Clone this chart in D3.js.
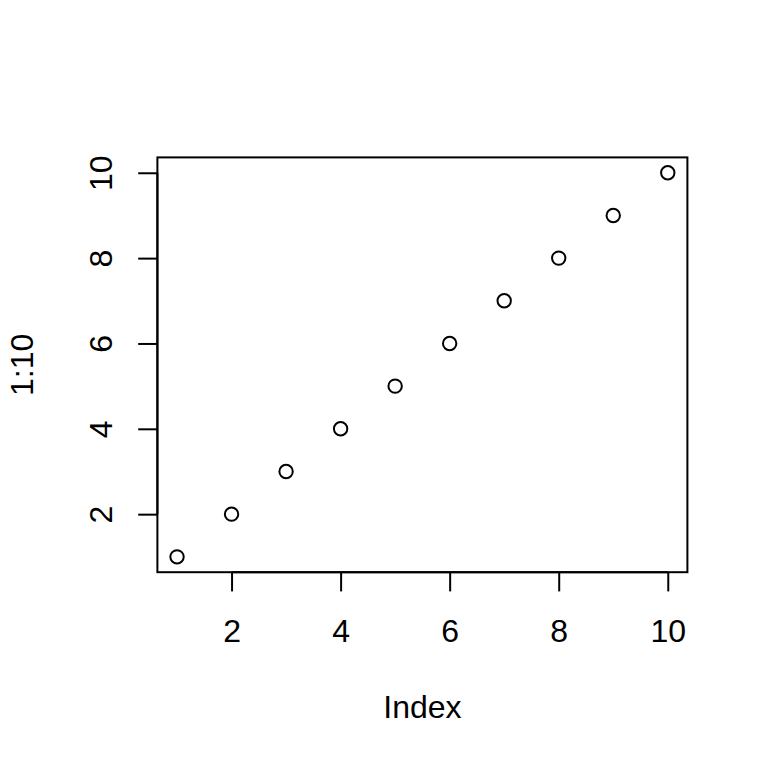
<!DOCTYPE html>
<html><head><meta charset="utf-8">
<script src="https://cdn.jsdelivr.net/npm/d3@7"></script>
<style>body{margin:0;background:#fff}svg{display:block}text{font-family:"Liberation Sans",Arial,Helvetica,sans-serif;fill:#000}</style>
</head><body>
<script>
const xValues = [1,2,3,4,5,6,7,8,9,10];
const yValues = [1,2,3,4,5,6,7,8,9,10];
const xTicks = [2,4,6,8,10];
const yTicks = [2,4,6,8,10];
const xTitle = "Index";
const yTitle = "1:10";

const W = 768, H = 768;
const mLeft = 157.4, mRight = 687.4, mTop = 157.4, mBottom = 572.2;
const svg = d3.select("body").append("svg").attr("width", W).attr("height", H);

const xs = d3.scaleLinear().domain([0.64, 10.36]).range([mLeft, mRight]);
const ys = d3.scaleLinear().domain([0.64, 10.36]).range([mBottom, mTop]);

// box
svg.append("rect").attr("x", mLeft).attr("y", mTop).attr("width", mRight-mLeft).attr("height", mBottom-mTop)
  .attr("fill", "none").attr("stroke", "#000").attr("stroke-width", 2);

// x axis
const xa = svg.append("g").attr("transform", `translate(0,${mBottom})`)
  .call(d3.axisBottom(xs).tickValues(xTicks).tickSize(19.2).tickPadding(0).tickFormat(d3.format("d")));
xa.select(".domain").attr("d", `M${xs(2)},0H${xs(10)}`).attr("stroke-width", 2);
xa.selectAll(".tick line").attr("stroke-width", 2);
xa.selectAll(".tick text").attr("y", 69.8).attr("dy", null).attr("font-size", 32)
  .attr("font-family", '"Liberation Sans",Arial,sans-serif').attr("fill", "#000");

// y axis
const ya = svg.append("g").attr("transform", `translate(${mLeft},0)`)
  .call(d3.axisLeft(ys).tickValues(yTicks).tickSize(19.2).tickPadding(0).tickFormat(d3.format("d")));
ya.select(".domain").attr("d", `M0,${ys(2)}V${ys(10)}`).attr("stroke-width", 2);
ya.selectAll(".tick line").attr("stroke-width", 2);
ya.selectAll(".tick text").attr("x", null).attr("dy", null)
  .attr("transform", "translate(-45.7,0) rotate(-90)")
  .attr("text-anchor", "middle").attr("font-size", 32)
  .attr("font-family", '"Liberation Sans",Arial,sans-serif').attr("fill", "#000");

// titles
svg.append("text").attr("x", (mLeft+mRight)/2).attr("y", 718).attr("text-anchor", "middle")
  .attr("font-size", 32).text(xTitle);
svg.append("text").attr("transform", `translate(33.3,${(mTop+mBottom)/2}) rotate(-90)`)
  .attr("text-anchor", "middle").attr("font-size", 32).text(yTitle);

// points
svg.append("g").selectAll("circle").data(xValues.map((v,i)=>[v, yValues[i]])).join("circle")
  .attr("cx", d => xs(d[0])).attr("cy", d => ys(d[1])).attr("r", 6.7)
  .attr("fill", "none").attr("stroke", "#000").attr("stroke-width", 2);
</script>
</body></html>
